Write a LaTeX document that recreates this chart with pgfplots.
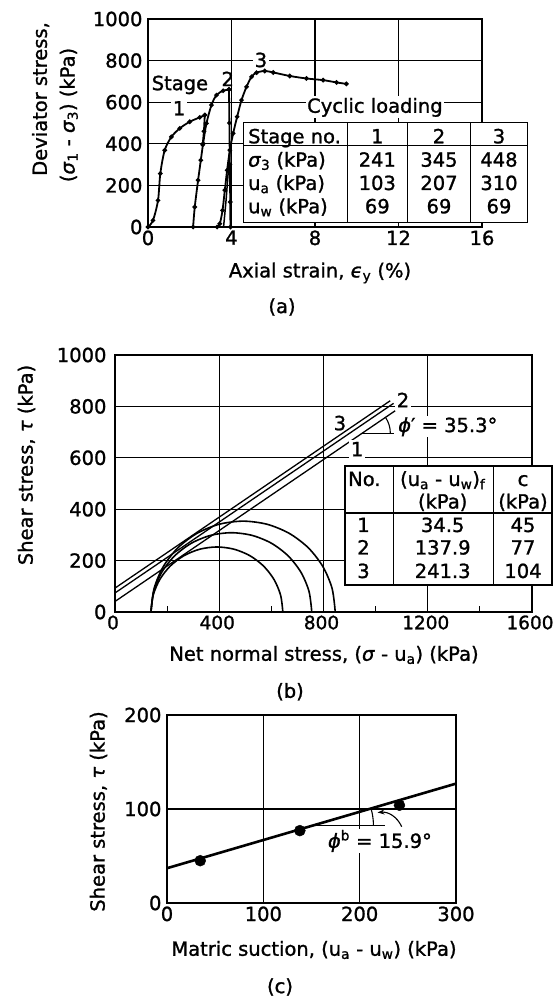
\documentclass[border=0pt]{standalone}
\usepackage{pgfplots}
\pgfplotsset{compat=1.18}
\usepackage{fontspec}
\setmainfont{DejaVu Sans}[FakeBold=1.2]
\usetikzlibrary{arrows.meta}
\newcommand{\fs}{\fontsize{19.5}{23}\selectfont}
\newcommand{\ft}{\fontsize{19.5}{22}\selectfont}
\pgfplotsset{
  base/.style={
    scale only axis, clip=false, anchor=south west,
    axis line style={line width=1.8pt},
    grid=major,
    major grid style={line width=1.2pt, black},
    major tick length=0pt,
    tick style={black},
    tick label style={font=\ft},
    /pgf/number format/assume math mode=true,
    /pgf/number format/1000 sep={},
    yticklabel style={xshift=-2pt},
  },
}
\begin{document}
\begin{tikzpicture}[x=1pt,y=1pt]
\path[use as bounding box] (0pt,0pt) rectangle (553pt,998pt);
% ---------------- panel (a)
\begin{axis}[base, at={(148pt,771pt)}, width=334pt, height=208pt,
  xmin=0, xmax=16, ymin=0, ymax=1000,
  xtick={0,4,8,12,16}, ytick={0,200,400,600,800,1000}]
% stage 1
\addplot[line width=1.8pt, smooth, mark=*, mark size=1.3pt] coordinates {
 (0,0) (0.24,32) (0.48,128) (0.59,257) (0.80,369) (1.12,433) (1.52,474) (2.0,506) (2.48,527) (2.72,538)};
\addplot[line width=1.8pt, mark=*, mark size=1.3pt] coordinates {(2.72,538) (2.68,460) (2.62,395)};
% stage 2
\addplot[line width=1.8pt, smooth, mark=*, mark size=1.3pt] coordinates {
 (2.16,0) (2.24,96) (2.40,225) (2.53,321) (2.64,401) (2.80,498) (3.04,586) (3.28,634) (3.60,655) (3.88,661)};
\addplot[line width=1.8pt, mark=*, mark size=1.3pt] coordinates {(3.88,661) (3.90,500) (3.92,300) (3.94,120) (3.95,0)};
% stage 3
\addplot[line width=1.8pt, smooth, mark=*, mark size=1.3pt] coordinates {
 (3.31,0) (3.44,16) (3.57,80) (3.68,177) (3.79,273) (3.92,369) (4.08,450) (4.27,530) (4.48,610) (4.72,674) (4.96,722) (5.20,742) (5.59,750) (6.0,743) (6.79,726) (7.59,714) (8.39,706) (9.03,695) (9.5,688)};
\addplot[line width=1.5pt, smooth] coordinates {(3.62,0) (3.74,130) (3.84,260) (3.93,369)};
\node[font=\fs] at (axis cs:1.53,683) {Stage};
\node[font=\fs, fill=white, inner sep=1.5pt] at (axis cs:1.49,571) {1};
\node[font=\fs] at (axis cs:3.82,712) {2};
\node[font=\fs, fill=white, inner sep=1.5pt] at (axis cs:5.41,803) {3};
\node[font=\fs, fill=white, inner sep=1.5pt] at (axis cs:10.87,575) {Cyclic loading};
\end{axis}
% table (a)
\draw[line width=1.3pt, fill=white] (243.3pt,775.3pt) rectangle (527.7pt,875.3pt);
\draw[line width=1.1pt] (243.3pt,852.3pt) -- (527.7pt,852.3pt);
\draw[line width=1.1pt] (347.3pt,775.3pt) -- (347.3pt,875.3pt);
\draw[line width=1.1pt] (407.3pt,775.3pt) -- (407.3pt,875.3pt);
\draw[line width=1.1pt] (470.7pt,775.3pt) -- (470.7pt,875.3pt);
\begin{scope}[every node/.style={font=\fs, inner sep=0pt}]
\node[anchor=base west] at (248pt,854.7pt) {Stage no.};
\node[anchor=base west] at (248pt,831.3pt) {\textit{σ}\textsubscript{3} (kPa)};
\node[anchor=base west] at (248pt,808pt) {u\textsubscript{a} (kPa)};
\node[anchor=base west] at (248pt,784.7pt) {u\textsubscript{w} (kPa)};
\node[anchor=base] at (377.3pt,854.7pt) {1};
\node[anchor=base] at (439pt,854.7pt) {2};
\node[anchor=base] at (499pt,854.7pt) {3};
\node[anchor=base] at (377.3pt,831.3pt) {241};
\node[anchor=base] at (439pt,831.3pt) {345};
\node[anchor=base] at (499pt,831.3pt) {448};
\node[anchor=base] at (377.3pt,808pt) {103};
\node[anchor=base] at (439pt,808pt) {207};
\node[anchor=base] at (499pt,808pt) {310};
\node[anchor=base] at (377.3pt,784.7pt) {69};
\node[anchor=base] at (439pt,784.7pt) {69};
\node[anchor=base] at (499pt,784.7pt) {69};
\end{scope}
\node[font=\fs, rotate=90] at (40.6pt,899pt) {Deviator stress,};
\node[font=\fs, rotate=90] at (68.8pt,883pt) {(\textit{σ}\textsubscript{1} - \textit{σ}\textsubscript{3}) (kPa)};
\node[font=\fs] at (320pt,725pt) {Axial strain, \textit{ϵ}\textsubscript{y} (\%)};
\node[font=\fs] at (282pt,691pt) {(a)};
% ---------------- panel (b)
\begin{axis}[base, at={(115pt,386pt)}, width=417pt, height=257pt,
  xmin=0, xmax=1600, ymin=0, ymax=1000,
  xtick={0,400,800,1200,1600}, ytick={0,200,400,600,800,1000},
  xticklabel style={font=\fontsize{18.5}{22}\selectfont, xshift=-2pt},
  yticklabel style={xshift=-3pt},
  minor xtick={200,600,1000,1400}, minor tick length=6pt,
  minor tick style={line width=1.1pt}, xtick pos=left]
\addplot[line width=1.3pt] coordinates {(0,41) (1075,783)};
\addplot[line width=1.3pt] coordinates {(0,74) (1069,812)};
\addplot[line width=1.3pt] coordinates {(0,93) (1056,822)};
\addplot[line width=1.6pt, smooth] coordinates {(644,0) (635.4,65.5) (610.1,126.5) (569.9,178.9) (517.5,219.1) (456.5,244.4) (391,253) (325.5,244.4) (264.5,219.1) (212.1,178.9) (171.9,126.5) (146.6,65.5) (138,0)};
\addplot[line width=1.6pt, smooth] coordinates {(755,0) (744.5,79.8) (713.7,154.3) (664.6,218.1) (600.8,267.2) (526.3,298.0) (446.5,308.5) (366.7,298.0) (292.3,267.2) (228.4,218.1) (179.3,154.3) (148.5,79.8) (138,0)};
\addplot[line width=1.6pt, smooth] coordinates {(845,0) (833.0,91.5) (797.6,176.8) (741.5,250.0) (668.3,306.1) (583.0,341.5) (491.5,353.5) (400.0,341.5) (314.8,306.1) (241.5,250.0) (185.4,176.8) (150.0,91.5) (138,0)};
\draw[line width=1.1pt] (axis cs:949,696) -- (axis cs:1069,696);
\draw[line width=1.1pt] (axis cs:949,696) ++(28pt,0pt) arc[start angle=0, end angle=34.3, radius=28pt];
\node[font=\fs, fill=white, inner sep=1.5pt] at (axis cs:1105,825) {2};
\node[font=\fs] at (axis cs:863,735) {3};
\node[font=\fs, fill=white, inner sep=1.5pt] at (axis cs:929,634) {1};
\node[font=\fs, fill=white, inner sep=1pt, anchor=west] at (axis cs:1082,721) {\textit{ϕ}′ = 35.3°};
\end{axis}
% table (b)
\draw[line width=1.3pt, fill=white] (345pt,413pt) rectangle (552pt,532pt);
\draw[line width=1.1pt] (345pt,485pt) -- (552pt,485pt);
\draw[line width=1.1pt] (393.3pt,413pt) -- (393.3pt,532pt);
\draw[line width=1.1pt] (493.3pt,413pt) -- (493.3pt,532pt);
\begin{scope}[every node/.style={font=\fs, inner sep=0pt}]
\node[anchor=base west] at (348pt,512pt) {No.};
\node[anchor=base] at (442.7pt,512pt) {(u\textsubscript{a} - u\textsubscript{w})\textsubscript{f}};
\node[anchor=base] at (442.7pt,489.5pt) {(kPa)};
\node[anchor=base] at (523pt,512pt) {c};
\node[anchor=base] at (523pt,489.5pt) {(kPa)};
\node[anchor=base] at (363.5pt,466pt) {1};
\node[anchor=base] at (363.5pt,443.5pt) {2};
\node[anchor=base] at (363.5pt,420pt) {3};
\node[anchor=base] at (442.7pt,466pt) {34.5};
\node[anchor=base] at (442.7pt,443.5pt) {137.9};
\node[anchor=base] at (442.7pt,420pt) {241.3};
\node[anchor=base] at (523pt,466pt) {45};
\node[anchor=base] at (523pt,443.5pt) {77};
\node[anchor=base] at (523pt,420pt) {104};
\end{scope}
\node[font=\fs, rotate=90] at (26.5pt,533pt) {Shear stress, \textit{τ} (kPa)};
\node[font=\fs] at (324pt,343pt) {Net normal stress, (\textit{σ} - u\textsubscript{a}) (kPa)};
\node[font=\fs] at (290pt,306.3pt) {(b)};
% ---------------- panel (c)
\begin{axis}[base, at={(167pt,95pt)}, width=289pt, height=188pt,
  xmin=0, xmax=300, ymin=0, ymax=200,
  xtick={0,100,200,300}, ytick={0,100,200}]
\addplot[line width=2.6pt] coordinates {(0,37) (300,127)};
\addplot[only marks, mark=*, mark size=5.5pt] coordinates {(34.5,45) (137.9,77) (241.3,104)};
\draw[line width=1.3pt] (axis cs:152,82.6) -- (axis cs:226,82.6);
\draw[line width=1.1pt] (axis cs:152,82.6) ++(60pt,0pt) arc[start angle=0, end angle=16.3, radius=60pt];
\node[font=\fs, fill=white, inner sep=1pt] at (axis cs:221,66) {\textit{ϕ}\textsuperscript{b} = 15.9°};
\end{axis}
\draw[line width=1.1pt, -{Stealth[length=7pt,width=5pt]}] (401.7pt,171.3pt) to[bend right=35] (377.5pt,185.5pt);
\node[font=\fs, rotate=90] at (98.5pt,186.5pt) {Shear stress, \textit{τ} (kPa)};
\node[font=\fs] at (314pt,48pt) {Matric suction, (u\textsubscript{a} - u\textsubscript{w}) (kPa)};
\node[font=\fs] at (280pt,11pt) {(c)};
\end{tikzpicture}
\end{document}
